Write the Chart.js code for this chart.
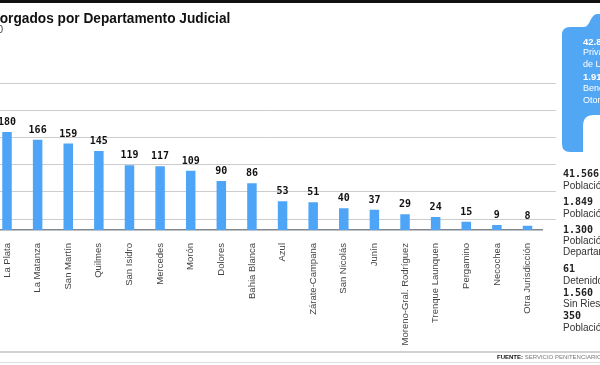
<!DOCTYPE html>
<html><head><meta charset="utf-8">
<script src="https://cdn.jsdelivr.net/npm/chart.js@4.4.0/dist/chart.umd.min.js"></script>
<style>
html,body{margin:0;padding:0;width:600px;height:365px;overflow:hidden;background:#fff;}
body{position:relative;font-family:"Liberation Sans",Arial,sans-serif;}
#c{position:absolute;left:-20px;top:0;}
#topbar{position:absolute;left:0;top:0;width:600px;height:3px;background:#111;}
#title{position:absolute;right:370px;top:9px;font:bold 15.4px "Liberation Sans",Arial,sans-serif;color:#111;white-space:nowrap;transform:scaleX(0.89);transform-origin:right top;line-height:18px;}
#sub{position:absolute;right:597px;top:24px;font:10px "Liberation Sans",Arial,sans-serif;color:#444;white-space:nowrap;line-height:12px;}
#panel{position:absolute;left:0;top:0;}
.pt{position:absolute;left:583px;color:#fff;white-space:nowrap;line-height:12px;font:9px "Liberation Sans",Arial,sans-serif;}
.pt.b{font:bold 9.5px "Liberation Sans",Arial,sans-serif;}
.st{position:absolute;left:563px;color:#333;white-space:nowrap;line-height:12px;font:10px "Liberation Sans",Arial,sans-serif;}
.st.b{font:bold 10px "DejaVu Sans Mono",monospace;color:#222;}
#l1{position:absolute;left:0;top:351px;width:600px;height:2px;background:#d2d2d2;}
#l2{position:absolute;left:0;top:362px;width:600px;height:1px;background:#dedede;}
#src{position:absolute;left:497px;top:354px;font:6px "Liberation Sans",Arial,sans-serif;color:#777;white-space:nowrap;line-height:7px;}
#src b{color:#111;}
</style></head>
<body>
<canvas id="c" width="640" height="365"></canvas>
<div id="topbar"></div>
<div id="title">Beneficios Otorgados por Departamento Judicial</div>
<div id="sub">Año 2010</div>
<svg id="panel" width="600" height="365" viewBox="0 0 600 365">
  <path d="M570 27 L584 27 C590 27 590 15 597 14 L601 14 L601 115 L594 115 Q583 115 583 126 L583 152 L570 152 Q562 152 562 144 L562 35 Q562 27 570 27 Z" fill="#52a7f5"/>
</svg>
<div class="pt b" style="top:36px">42.816</div>
<div class="pt" style="top:47px">Privados</div>
<div class="pt" style="top:59px">de Libertad</div>
<div class="pt b" style="top:71px">1.915</div>
<div class="pt" style="top:83px">Beneficios</div>
<div class="pt" style="top:95px">Otorgados</div>

<div class="st b" style="top:168px">41.566</div>
<div class="st" style="top:180px">Población Penal</div>
<div class="st b" style="top:196px">1.849</div>
<div class="st" style="top:208px">Población Femenina</div>
<div class="st b" style="top:224px">1.300</div>
<div class="st" style="top:235px">Población del</div>
<div class="st" style="top:246px">Departamento</div>
<div class="st b" style="top:263px">61</div>
<div class="st" style="top:275px">Detenidos</div>
<div class="st b" style="top:287px">1.560</div>
<div class="st" style="top:298px">Sin Riesgo</div>
<div class="st b" style="top:310px">350</div>
<div class="st" style="top:322px">Población</div>

<div id="l1"></div>
<div id="l2"></div>
<div id="src"><b>FUENTE:</b> SERVICIO PENITENCIARIO BONAERENSE</div>

<script>
const categories = ["La Plata","La Matanza","San Martín","Quilmes","San Isidro","Mercedes","Morón","Dolores","Bahia Blanca","Azul","Zárate-Campana","San Nicolás","Junín","Moreno-Gral. Rodríguez","Trenque Launquen","Pergamino","Necochea","Otra Jurisdicción"];
const values = [180,166,159,145,119,117,109,90,86,53,51,40,37,29,24,15,9,8];
const gridTicks = [20,70,120,170,220,270];

const valueLabels = {
  id: 'valueLabels',
  afterDatasetsDraw(chart) {
    const ctx = chart.ctx;
    const meta = chart.getDatasetMeta(0);
    ctx.save();
    ctx.font = 'bold 10px "DejaVu Sans Mono", monospace';
    ctx.fillStyle = '#111';
    ctx.textAlign = 'center';
    ctx.textBaseline = 'alphabetic';
    meta.data.forEach((bar, i) => {
      ctx.fillText(String(values[i]), bar.x, bar.y - 7);
    });
    ctx.restore();
  }
};

new Chart(document.getElementById('c'), {
  type: 'bar',
  data: {
    labels: categories,
    datasets: [{
      data: values,
      backgroundColor: '#4ea4f6',
      borderWidth: 0,
      barPercentage: 0.31,
      categoryPercentage: 1
    }]
  },
  options: {
    responsive: false,
    animation: false,
    devicePixelRatio: 1,
    layout: { padding: { left: 11.7, right: 64.2, top: 60, bottom: 0 } },
    plugins: { legend: { display: false }, tooltip: { enabled: false }, title: { display: false } },
    scales: {
      x: {
        offset: true,
        grid: { display: false, drawTicks: false },
        border: { display: true, color: '#80878f', width: 1.5 },
        ticks: {
          autoSkip: false, minRotation: 90, maxRotation: 90, padding: 13,
          color: '#444', font: { family: '"Liberation Sans", Arial, sans-serif', size: 9.5 }
        },
        afterFit: s => { s.height = 135; }
      },
      y: {
        position: 'right',
        min: 0, max: 312.5,
        afterBuildTicks: s => { s.ticks = gridTicks.map(v => ({ value: v })); },
        ticks: { display: false },
        grid: { color: '#cccccc', lineWidth: 1, drawTicks: true, tickLength: 13, tickColor: '#cccccc' },
        border: { display: false },
        afterFit: s => { s.width = 13; }
      }
    }
  },
  plugins: [valueLabels]
});
</script>
</body></html>
